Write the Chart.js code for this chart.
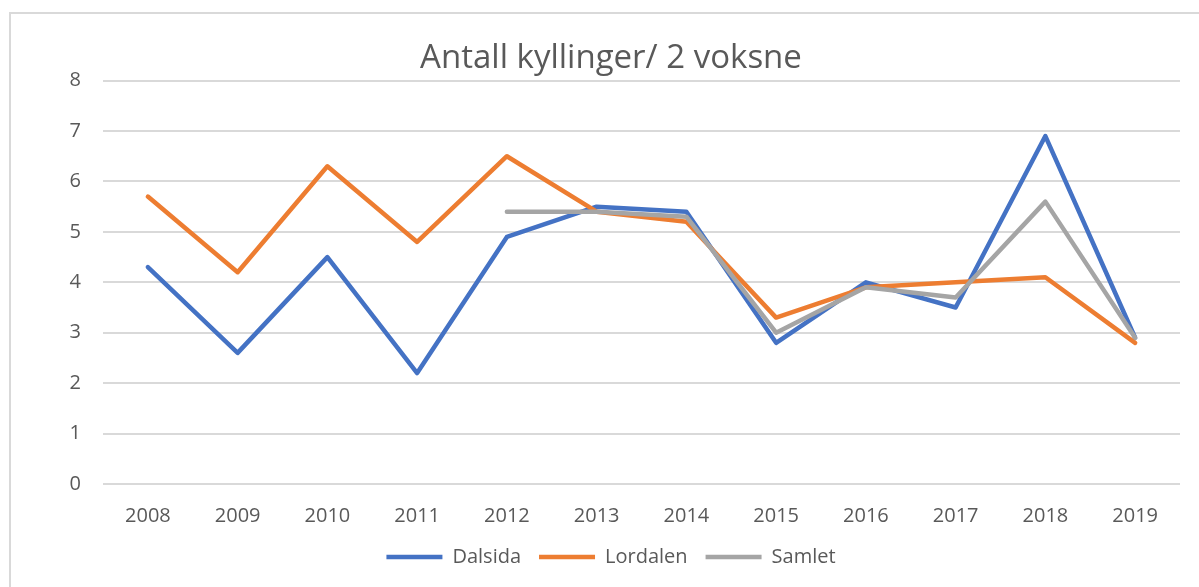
<!DOCTYPE html>
<html>
<head>
<meta charset="utf-8">
<script src="https://cdn.jsdelivr.net/npm/chart.js@4/dist/chart.umd.min.js"></script>
<style>
    html, body { margin: 0; padding: 0; background: #fff; overflow: hidden; }
    #wrap {
        position: absolute;
        left: 9px;
        top: 12px;
        width: 1200px;
        height: 600px;
        border: 2px solid #d9d9d9;
        background: #fff;
    }
    #chart { display: block; }
</style>
</head>
<body>
<div id="wrap"><canvas id="chart" width="1200" height="563"></canvas></div>
<script>
// Chart data
const years = ['2008', '2009', '2010', '2011', '2012', '2013', '2014', '2015', '2016', '2017', '2018', '2019'];
const dalsida = [4.3, 2.6, 4.5, 2.2, 4.9, 5.5, 5.4, 2.8, 4.0, 3.5, 6.9, 2.9];
const lordalen = [5.7, 4.2, 6.3, 4.8, 6.5, 5.4, 5.2, 3.3, 3.9, 4.0, 4.1, 2.8];
const samlet = [null, null, null, null, 5.4, 5.4, 5.3, 3.0, 3.9, 3.7, 5.6, 2.9];

const textColor = '#595959';
const fontFamily = '"Open Sans", "Liberation Sans", sans-serif';

function lineSeries(label, data, color, order) {
    return {
        label: label,
        data: data,
        borderColor: color,
        backgroundColor: color,
        borderWidth: 4.5,
        borderCapStyle: 'round',
        borderJoinStyle: 'round',
        pointRadius: 0,
        pointHoverRadius: 0,
        tension: 0,
        spanGaps: false,
        order: order
    };
}

const ctx = document.getElementById('chart').getContext('2d');

new Chart(ctx, {
    type: 'line',
    data: {
        labels: years,
        datasets: [
            lineSeries('Dalsida', dalsida, '#4472C4', 2),
            lineSeries('Lordalen', lordalen, '#ED7D31', 1),
            lineSeries('Samlet', samlet, '#A5A5A5', 0)
        ]
    },
    options: {
        responsive: false,
        animation: false,
        layout: { padding: 0 },
        plugins: {
            title: {
                display: true,
                text: 'Antall kyllinger/ 2 voksne',
                color: textColor,
                font: { family: fontFamily, size: 33, weight: 'normal' },
                padding: { top: 25, bottom: 2 }
            },
            legend: {
                position: 'bottom',
                labels: {
                    usePointStyle: true,
                    pointStyle: 'line',
                    pointStyleWidth: 56,
                    padding: 18,
                    color: textColor,
                    font: { family: fontFamily, size: 20 },
                    sort: (a, b) => a.datasetIndex - b.datasetIndex
                }
            },
            tooltip: { enabled: false }
        },
        scales: {
            x: {
                offset: true,
                grid: { display: false, drawTicks: false },
                border: { display: false },
                ticks: {
                    color: textColor,
                    font: { family: fontFamily, size: 20 },
                    padding: 20,
                    maxRotation: 0
                },
                afterFit: (scale) => { scale.height = 45; }
            },
            y: {
                min: 0,
                max: 8,
                grid: { color: '#d9d9d9', lineWidth: 2, drawTicks: false },
                border: { display: false },
                ticks: {
                    stepSize: 1,
                    color: textColor,
                    font: { family: fontFamily, size: 20 },
                    padding: 22
                },
                afterFit: (scale) => { scale.width = 92; }
            },
            // empty right axis, only keeps room on the right side
            yRight: {
                position: 'right',
                display: true,
                grid: { display: false, drawTicks: false },
                border: { display: false },
                ticks: { display: false },
                afterFit: (scale) => { scale.width = 31; }
            }
        }
    }
});
</script>
</body>
</html>
